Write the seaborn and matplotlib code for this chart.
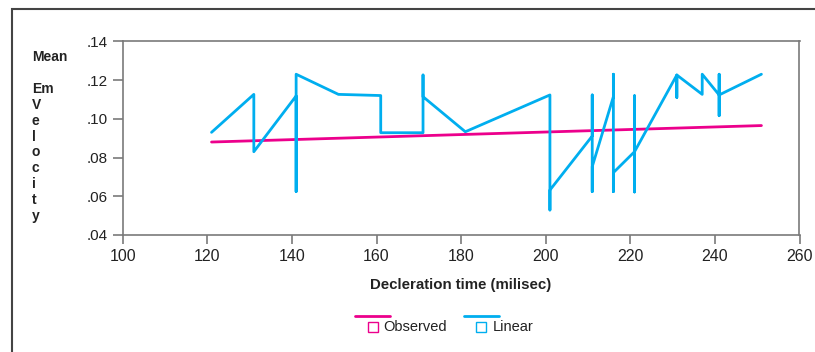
import matplotlib
matplotlib.use("Agg")
import matplotlib.pyplot as plt
from matplotlib.lines import Line2D
from matplotlib.patches import Rectangle
import seaborn as sns
import pandas as pd

# ---- data ----
dec_time = [121, 131, 131, 141, 141, 141, 151, 161, 161, 171, 171, 171, 181,
            201, 201, 201, 211, 211, 211, 211, 216, 216, 216, 216,
            221, 221, 221, 221, 231, 231, 231, 237, 237, 241, 241, 241, 241, 251]
linear_vals = [.093, .1126, .083, .1118, .0624, .123, .1126, .112, .0928, .0928,
               .1226, .1114, .0933, .1123, .0529, .0632, .0911, .1123, .0624,
               .0753, .1114, .123, .0624, .0722, .083, .1119, .0622, .083,
               .1226, .111, .1226, .1126, .123, .1123, .123, .1016, .1123, .123]
obs_time = [121, 251]
obs_vals = [0.088, 0.0965]
x_ticks = [100, 120, 140, 160, 180, 200, 220, 240, 260]
y_ticks = [0.04, 0.06, 0.08, 0.10, 0.12, 0.14]
y_tick_labels = [".04", ".06", ".08", ".10", ".12", ".14"]
legend_labels = ["Observed", "Linear"]

BLUE = "#00AEEF"
PINK = "#EC008C"
GRAY = "#7a7a7a"

sns.set_style("white")
plt.rcParams["font.family"] = ["Liberation Sans", "DejaVu Sans"]

W, H = 815, 352
fig = plt.figure(figsize=(W / 100, H / 100), dpi=100)
ax = fig.add_axes([122.7 / W, 1 - 235 / H, (799.5 - 122.7) / W, (235 - 41.3) / H])

df_lin = pd.DataFrame({"t": dec_time, "v": linear_vals})
df_obs = pd.DataFrame({"t": obs_time, "v": obs_vals})
sns.lineplot(data=df_obs, x="t", y="v", ax=ax, color=PINK, linewidth=2.0,
             sort=False, estimator=None)
sns.lineplot(data=df_lin, x="t", y="v", ax=ax, color=BLUE, linewidth=2.0,
             sort=False, estimator=None)

ax.set_xlim(100, 260)
ax.set_ylim(0.04, 0.14)
ax.set_xticks(x_ticks)
ax.set_xticklabels([str(t) for t in x_ticks])
ax.set_yticks(y_ticks)
ax.set_yticklabels(y_tick_labels)
ax.set_xlabel("")
ax.set_ylabel("")
for s in ax.spines.values():
    s.set_color(GRAY)
    s.set_linewidth(1.2)
    s.set_visible(True)
ax.tick_params(axis="x", direction="out", length=6.3, width=1.2, color=GRAY,
               labelsize=11.5, pad=4, labelcolor="#222222", bottom=True)
ax.tick_params(axis="y", direction="out", length=7, width=1.2, color=GRAY,
               labelsize=11, pad=4, labelcolor="#222222", left=True)

# axis titles
fig.text(461 / W, 1 - 285 / H, "Decleration time (milisec)", ha="center",
         va="center", fontsize=10.8, fontweight="bold", color="#222222")
fig.text(32 / W, 1 - 57 / H, "Mean", ha="left", va="center", fontsize=10,
         fontweight="bold", color="#222222")
fig.text(32 / W, 1 - 82 / H, "Em\nV\ne\nl\no\nc\ni\nt\ny", ha="left", va="top",
         fontsize=10, fontweight="bold", color="#222222", linespacing=1.17)

# outer frame
fig.patches.append(Rectangle((12 / W, -0.1), 1.5, (1 - 9 / H) + 0.1,
                             transform=fig.transFigure, fill=False,
                             edgecolor="#444444", linewidth=1.5))

# legend
for (x0, x1, sx, tx, col, lab) in [(355, 390, 373, 383, PINK, legend_labels[0]),
                                   (464, 499, 481, 493, BLUE, legend_labels[1])]:
    fig.lines.append(Line2D([x0 / W, x1 / W], [1 - 315.7 / H] * 2,
                            transform=fig.transFigure, color=col, linewidth=2.0))
    fig.lines.append(Line2D([sx / W], [1 - 327 / H], transform=fig.transFigure,
                            marker="s", markersize=6.5, markerfacecolor="none",
                            markeredgecolor=col, markeredgewidth=1.0, linestyle="none"))
    fig.text(tx / W, 1 - 327 / H, lab, ha="left", va="center", fontsize=10.5,
             color="#222222")

fig.savefig("out.png", dpi=100)
